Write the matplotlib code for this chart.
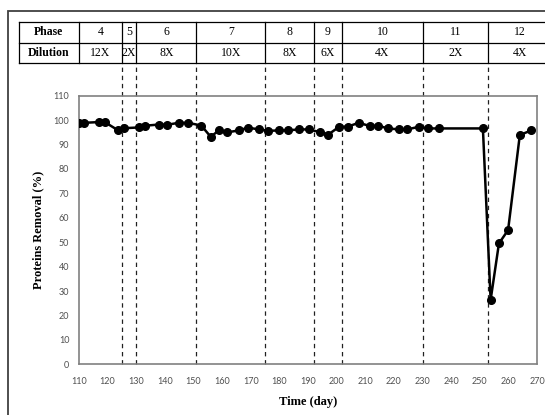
import matplotlib
matplotlib.use("Agg")
import matplotlib.pyplot as plt
from matplotlib.patches import Rectangle

# Data
days = [110, 111.7, 117, 119, 123.7, 125.8, 130.9, 132.9, 138, 140.8, 144.8, 148.1,
        152.7, 156, 158.9, 161.8, 165.9, 169, 173, 176, 180, 183, 186.8, 190.2,
        194.2, 197.1, 200.9, 203.8, 207.7, 211.6, 214.5, 218, 221.8, 224.7, 228.8,
        232, 235.8, 251.1, 253.8, 256.7, 259.9, 264, 268]
removal = [98.9, 98.9, 99.2, 99.2, 95.8, 96.7, 97.0, 97.7, 98.2, 98.1, 98.9, 98.9,
           97.8, 93.2, 95.8, 95.0, 95.8, 96.9, 96.2, 95.6, 95.8, 95.8, 96.2, 96.2,
           95.1, 94.1, 97.3, 97.3, 98.9, 97.6, 97.7, 96.6, 96.2, 96.2, 97.3,
           96.6, 96.6, 96.6, 26.4, 49.5, 55.0, 93.9, 95.8]

phase_bounds = [125, 130, 151, 175, 192, 202, 230, 253]
phases = ["4", "5", "6", "7", "8", "9", "10", "11", "12"]
dilutions = ["12X", "2X", "8X", "10X", "8X", "6X", "4X", "2X", "4X"]

W, H = 545, 415
fig = plt.figure(figsize=(W / 100, H / 100), dpi=100)
ax = fig.add_axes([79 / W, 1 - 364.4 / H, (537 - 79) / W, (364.4 - 95.7) / H])

serif = "Liberation Serif"
tickfont = "Lato"

# outer frame (runs off the right and bottom edges)
fig.add_artist(Rectangle((8 / W, -0.05), 1.2, 1 - 11 / H + 0.05, transform=fig.transFigure,
                         fill=False, edgecolor="#404040", linewidth=1.3))

ax.plot(days, removal, color="black", linewidth=1.8, marker="o", markersize=5.5, zorder=3)

ax.set_xlim(110, 270)
ax.set_ylim(0, 110)
ax.set_xticks(range(110, 271, 10))
ax.set_yticks(range(0, 111, 10))
ax.tick_params(length=0, labelsize=6.5, labelcolor="#505050")
ax.tick_params(axis="x", pad=9)
ax.tick_params(axis="y", pad=7)
for lab in ax.get_xticklabels() + ax.get_yticklabels():
    lab.set_fontfamily(tickfont)
for s in ax.spines.values():
    s.set_color("#808080")
    s.set_linewidth(1.2)

ax.set_xlabel("Time (day)", fontfamily=serif, fontweight="bold", fontsize=9, labelpad=7)
ax.set_ylabel("Proteins Removal (%)", fontfamily=serif, fontweight="bold", fontsize=9, labelpad=7)

# table above the plot, in data coordinates
t_top, t_mid, t_bot = 140.3, 131.6, 123.5
t_left, t_right = 89.0, 276
for d in phase_bounds:
    ax.plot([d, d], [0, t_bot], color="#202020", linewidth=0.9, linestyle=(0, (3.5, 3)),
            clip_on=False, zorder=1)

edges = [t_left, 110] + phase_bounds + [t_right]
for x in edges:
    ax.plot([x, x], [t_bot, t_top], color="black", linewidth=0.9, clip_on=False)
for y in (t_top, t_mid, t_bot):
    ax.plot([t_left, t_right], [y, y], color="black", linewidth=0.9, clip_on=False)

ax.text((t_left + 110) / 2, (t_top + t_mid) / 2, "Phase", ha="center", va="center",
        fontfamily=serif, fontweight="bold", fontsize=8.5)
ax.text((t_left + 110) / 2, (t_mid + t_bot) / 2, "Dilution", ha="center", va="center",
        fontfamily=serif, fontweight="bold", fontsize=8.5)
cols = [110] + phase_bounds + [270]
for i in range(len(phases)):
    cx = (cols[i] + cols[i + 1]) / 2
    if i == len(phases) - 1:
        cx = (cols[i] + 275) / 2
    ax.text(cx, (t_top + t_mid) / 2, phases[i], ha="center", va="center",
            fontfamily=serif, fontsize=8.5)
    ax.text(cx, (t_mid + t_bot) / 2, dilutions[i], ha="center", va="center",
            fontfamily=serif, fontsize=8.5)

fig.savefig("out.png", dpi=100)
